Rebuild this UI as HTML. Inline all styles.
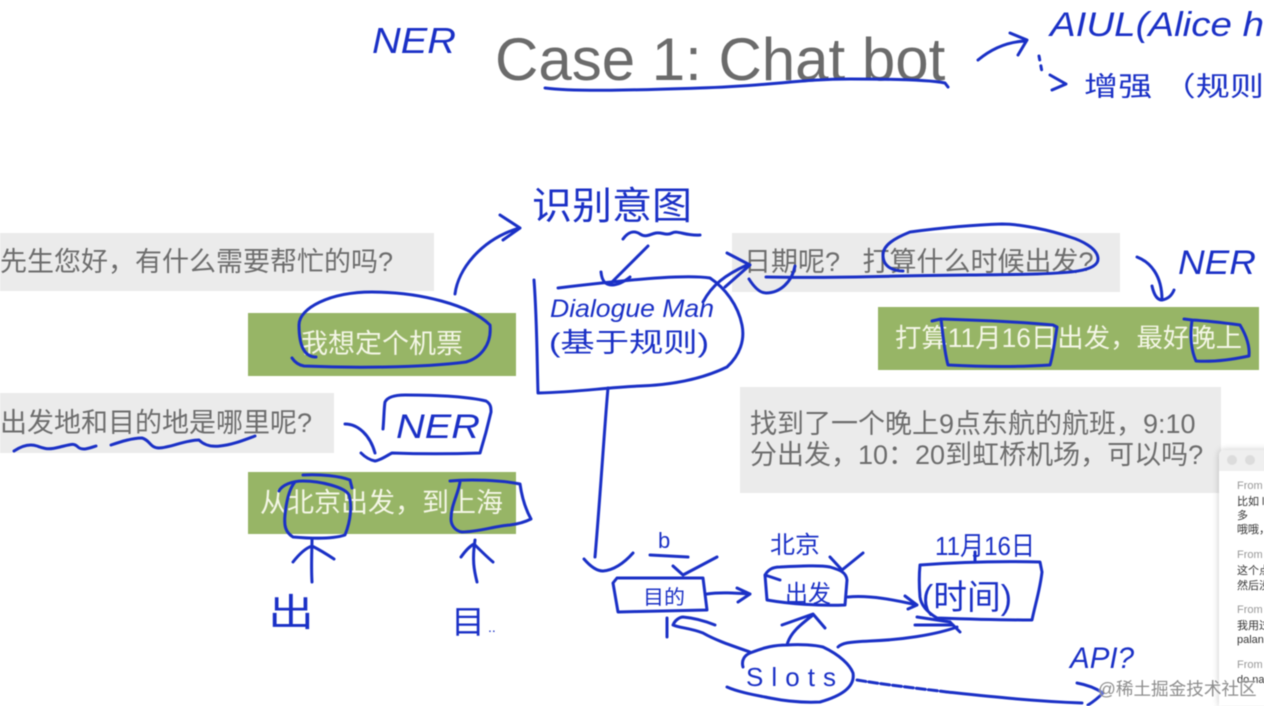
<!DOCTYPE html>
<html lang="zh">
<head>
<meta charset="utf-8">
<title>Case 1: Chat bot</title>
<style>
html,body{margin:0;padding:0;background:#fff;}
body{width:1264px;height:706px;overflow:hidden;position:relative;font-family:"Liberation Sans","Noto Sans CJK SC",sans-serif;}
#stage{position:absolute;left:0;top:0;width:1264px;height:706px;filter:blur(0.45px);}
.box{position:absolute;white-space:nowrap;}
.gray{background:#ebebeb;color:#6d6d6d;font-size:27px;}
.green{background:#97b566;color:#f4f6e6;font-size:27px;}
#title{position:absolute;left:495px;top:25px;font-size:60px;color:#6b6b6b;white-space:nowrap;line-height:70px;}
#win{position:absolute;left:1219px;top:450px;width:60px;height:256px;background:#fff;box-shadow:0 0 7px rgba(0,0,0,.22);border-radius:5px 0 0 0;overflow:hidden;font-size:11px;color:#333;}
#win .bar{height:21px;background:#efefef;}
#win .dot{position:absolute;top:5px;width:10px;height:10px;border-radius:50%;background:#dcdcdc;}
#win div.t{position:absolute;left:18px;white-space:nowrap;line-height:13px;}
#win .f{color:#999;}
#mark{position:absolute;left:1098px;top:678px;font-size:17.6px;color:#8d8d8d;white-space:nowrap;line-height:22px;text-shadow:0 0 2px #fff;}
svg{position:absolute;left:0;top:0;}
.s{fill:none;stroke:#1a30c6;stroke-width:3;stroke-linecap:round;stroke-linejoin:round;}
.h{fill:#1a30c6;font-family:"Liberation Sans","Noto Sans CJK SC",sans-serif;}
</style>
</head>
<body>
<div id="stage">
  <div id="title">Case 1: Chat bot</div>

  <div class="box gray" style="left:0;top:233px;width:434px;height:58px;line-height:59px;">先生您好，有什么需要帮忙的吗?</div>
  <div class="box green" style="left:248px;top:313px;width:268px;height:63px;line-height:62px;text-indent:53px;">我想定个机票</div>
  <div class="box gray" style="left:0;top:393px;width:334px;height:60px;line-height:61px;">出发地和目的地是哪里呢?</div>
  <div class="box green" style="left:248px;top:472px;width:268px;height:62px;line-height:63px;text-indent:12px;">从北京出发，到上海</div>

  <div class="box gray" style="left:732px;top:233px;width:388px;height:59px;line-height:59px;text-indent:12px;">日期呢?&nbsp;&nbsp;&nbsp;打算什么时候出发?</div>
  <div class="box green" style="left:878px;top:307px;width:381px;height:63px;line-height:63px;text-indent:17px;font-size:26.4px;">打算11月16日出发，最好晚上</div>
  <div class="box gray" style="left:740px;top:387px;width:481px;height:106px;line-height:31px;">
    <div style="position:absolute;left:10px;top:22px;">找到了一个晚上9点东航的航班，9:10</div>
    <div style="position:absolute;left:10px;top:53px;">分出发，10：20到虹桥机场，可以吗?</div>
  </div>

  <div id="win">
    <div class="bar"></div>
    <div class="dot" style="left:8px"></div>
    <div class="dot" style="left:26px"></div>
    <div class="t f" style="top:30px">From</div>
    <div class="t" style="top:46px">比如 le</div>
    <div class="t" style="top:60px">多</div>
    <div class="t" style="top:74px">哦哦，</div>
    <div class="t f" style="top:99px">From</div>
    <div class="t" style="top:115px">这个点</div>
    <div class="t" style="top:130px">然后没</div>
    <div class="t f" style="top:154px">From</div>
    <div class="t" style="top:170px">我用过</div>
    <div class="t" style="top:184px">palan</div>
    <div class="t f" style="top:209px">From</div>
    <div class="t" style="top:224px">do na</div>
  </div>

  <svg width="1264" height="706" viewBox="0 0 1264 706">
    <!-- handwritten labels -->
    <text class="h" x="372" y="53" font-size="36" font-style="italic" textLength="84" lengthAdjust="spacingAndGlyphs">NER</text>
    <text class="h" x="1050" y="36" font-size="34" font-style="italic" textLength="214" lengthAdjust="spacingAndGlyphs">AIUL(Alice h</text>
    <text class="h" x="1084" y="96" font-size="27" textLength="180" lengthAdjust="spacingAndGlyphs">增强 （规则</text>
    <text class="h" x="532" y="219" font-size="38" textLength="160" lengthAdjust="spacingAndGlyphs">识别意图</text>
    <text class="h" x="550" y="317" font-size="25" font-style="italic" textLength="164" lengthAdjust="spacingAndGlyphs">Dialogue Man</text>
    <text class="h" x="549" y="352" font-size="27" textLength="160" lengthAdjust="spacingAndGlyphs">(基于规则)</text>
    <text class="h" x="396" y="438" font-size="34" font-style="italic" textLength="84" lengthAdjust="spacingAndGlyphs">NER</text>
    <text class="h" x="1178" y="274" font-size="34" font-style="italic" textLength="78" lengthAdjust="spacingAndGlyphs">NER</text>
    <text class="h" x="268" y="626" font-size="38" textLength="46" lengthAdjust="spacingAndGlyphs">出</text>
    <text class="h" x="451" y="633" font-size="32" textLength="34" lengthAdjust="spacingAndGlyphs">目</text>
    <text class="h" x="488" y="632" font-size="14">..</text>
    <text class="h" x="658" y="548" font-size="22">b</text>
    <text class="h" x="770" y="553" font-size="24" textLength="50" lengthAdjust="spacingAndGlyphs">北京</text>
    <text class="h" x="935" y="555" font-size="26" textLength="100" lengthAdjust="spacingAndGlyphs">11月16日</text>
    <text class="h" x="643" y="604" font-size="20" textLength="42" lengthAdjust="spacingAndGlyphs">目的</text>
    <text class="h" x="785" y="602" font-size="24" textLength="46" lengthAdjust="spacingAndGlyphs">出发</text>
    <text class="h" x="922" y="609" font-size="34" textLength="90" lengthAdjust="spacingAndGlyphs">(时间)</text>
    <text class="h" x="746" y="686" font-size="26" textLength="90" lengthAdjust="spacing">Slots</text>
    <text class="h" x="1070" y="668" font-size="30" font-style="italic" textLength="64" lengthAdjust="spacingAndGlyphs">API?</text>

    <!-- title annotations -->
    <path class="s" d="M545 88C575 92 640 90 700 88C770 86 800 79 850 79C890 79 930 80 945 83L948 87"/>
    <path class="s" d="M978 60C990 50 1005 42 1025 41M1010 33L1027 40L1018 55"/>
    <path class="s" stroke-dasharray="4 6" d="M1039 56L1042 72"/>
    <path class="s" d="M1050 75L1066 84L1052 90"/>

    <!-- oval and arrow on the left -->
    <path class="s" d="M316 357C304 357 299 345 299 325C299 308 330 292 372 292C420 292 470 305 490 325C492 345 480 358 466 362C420 368 350 368 304 366C298 365 294 361 292 358"/>
    <path class="s" d="M455 294C458 270 480 240 519 228M500 215L520 228L503 240"/>

    <!-- intent squiggle and arrow -->
    <path class="s" d="M623 239C628 232 634 230 640 234S650 234 656 233S666 236 672 233S685 236 700 235"/>
    <path class="s" d="M648 246L611 283M601 272C602 282 606 285 612 285C618 285 625 281 630 277"/>

    <!-- dialogue manager box -->
    <path class="s" d="M534 280C537 320 537 360 538 393C580 392 600 388 640 386C670 385 700 380 727 367C740 355 745 340 742 325C738 305 725 288 710 278C690 275 650 277 558 288"/>
    <path class="s" d="M608 388C605 420 600 500 595 557"/>
    <path class="s" d="M584 559C590 566 596 571 603 571C615 570 625 562 633 553"/>
    <path class="s" d="M703 302C712 285 725 275 747 265M727 253L750 265L725 287"/>

    <!-- right top annotations -->
    <path class="s" d="M749 279C754 287 760 293 766 293C780 293 792 282 795 266"/>
    <path class="s" d="M766 277C810 278 860 277 900 276C950 275 1000 275 1036 274C1065 273 1098 272 1098 259C1098 248 1080 240 1070 237C1050 230 1020 224 1002 224C970 225 940 228 910 232C895 238 883 245 883 255C883 268 895 271 903 271"/>
    <path class="s" d="M1137 257C1150 262 1162 275 1162 300M1152 286C1154 295 1157 300 1162 300C1168 299 1172 295 1174 290"/>
    <path class="s" d="M932 321L941 319C975 320 1020 322 1053 325L1057 327C1055 340 1053 355 1050 365C1020 367 985 367 948 365C944 350 943 335 941 319"/>
    <path class="s" d="M1184 319L1192 320C1210 321 1225 323 1240 325C1246 335 1250 345 1249 356C1230 360 1210 362 1196 361C1191 350 1190 335 1192 320"/>

    <!-- left NER -->
    <path class="s" d="M383 429C384 418 384 408 385 402C388 396 397 395 405 395C435 395 465 396 486 401C491 404 491 408 491 412C488 425 484 440 480 453C450 454 420 454 392 453C386 456 381 460 375 461C370 460 365 457 361 453"/>
    <path class="s" d="M345 424C358 424 370 435 375 453"/>
    <path class="s" d="M14 451C20 447 28 443 37 446S48 450 60 447S74 443 78 447S90 448 96 446"/>
    <path class="s" d="M111 445C120 442 132 438 142 438C150 440 150 448 159 448C170 448 185 440 199 440C205 446 212 447 220 446C232 445 244 440 255 436"/>

    <!-- left boxes -->
    <path class="s" d="M279 491C282 485 292 481 303 481C320 481 345 487 349 495C352 505 351 520 345 535C330 540 305 538 293 537C285 532 284 525 285 515C286 505 288 490 295 482"/>
    <path class="s" d="M303 475C320 474 340 476 350 480L352 488"/>
    <path class="s" d="M450 481C470 479 500 480 520 484C522 498 526 510 531 519C525 522 518 524 510 525C495 526 478 532 462 532C455 531 451 525 451 519C451 505 458 495 460 482"/>
    <path class="s" d="M312 582C311 565 312 550 312 539M293 562C300 553 306 548 312 546C320 550 328 555 334 559"/>
    <path class="s" d="M477 582C474 570 472 560 475 540M461 557C466 550 470 546 474 544C480 550 487 557 493 562"/>

    <!-- slot boxes -->
    <path class="s" d="M650 555L688 557M673 566L683 575L717 557"/>
    <path class="s" d="M613 583L617 578L703 578L707 610L618 612Z"/>
    <path class="s" d="M707 594C720 592 735 593 750 594M737 588L750 594L738 602"/>
    <path class="s" d="M765 575C768 570 772 567 780 567C800 566 820 565 830 567C840 570 846 572 847 580L845 605C820 606 790 604 767 600L765 575L780 580"/>
    <path class="s" d="M830 557L842 570L863 553"/>
    <path class="s" d="M848 597C870 595 895 600 917 605M905 596L917 605L908 609"/>
    <path class="s" d="M920 565C960 562 1000 561 1040 562L1042 572C1040 590 1035 605 1032 620C1000 620 965 619 937 618C927 612 921 605 920 597C919 585 919 575 920 565"/>
    <path class="s" d="M975 562L975 552"/>
    <path class="s" d="M917 617L950 622M915 625L953 625M950 622L960 632"/>
    <path class="s" d="M838 647C842 643 848 642 870 641C900 640 935 635 957 627"/>
    <path class="s" d="M787 645C790 633 800 625 813 615M782 625L813 614L825 628"/>
    <path class="s" d="M750 652C730 645 715 640 703 633C690 628 680 628 673 625C675 620 680 617 683 617C695 618 705 621 715 625M667 618L667 637"/>
    <path class="s" d="M743 667C741 660 745 655 750 653C765 647 775 645 787 645C800 644 815 645 823 647C840 655 850 665 853 673C855 685 845 695 820 702C800 703 785 701 770 698C755 695 738 692 727 687"/>
    <path class="s" stroke-dasharray="9 3" d="M857 680C880 684 915 688 947 692"/>
    <path class="s" d="M947 692C985 696 1030 701 1082 703"/>
    <path class="s" d="M1077 683C1088 685 1097 689 1103 693C1098 698 1093 702 1088 705"/>
  </svg>

  <div id="mark">@稀土掘金技术社区</div>
</div>
</body>
</html>
